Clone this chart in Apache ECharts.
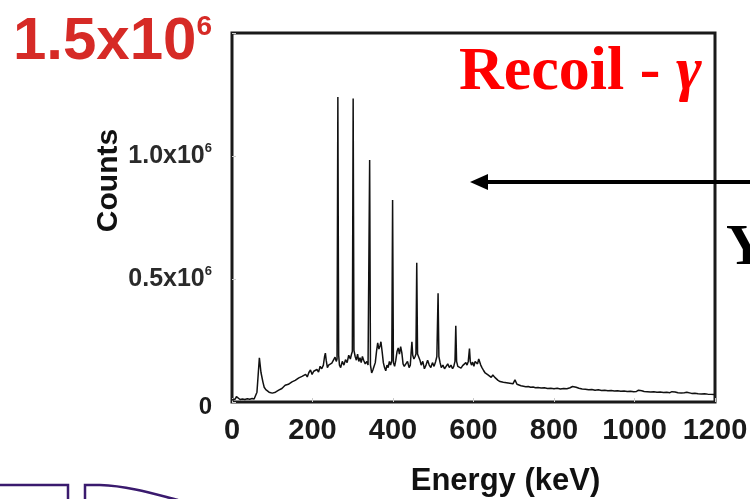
<!DOCTYPE html>
<html>
<head>
<meta charset="utf-8">
<script src="https://cdn.jsdelivr.net/npm/echarts@6/dist/echarts.min.js"></script>
<style>
  html, body { margin: 0; padding: 0; background: #fff; }
  #main { width: 750px; height: 499px; }
</style>
</head>
<body>
<div id="main"></div>
<script>
// gamma spectrum, counts in units of 1000
var energyKeV = [
  0, 4, 8, 11, 13, 15, 20, 26, 32, 38, 44, 50, 55, 59, 62, 65, 68, 70, 72, 74,
  77, 80, 84, 88, 92, 96, 100, 104, 108, 112, 116, 120, 124, 128, 132, 136, 140, 144, 149, 153,
  157, 161, 166, 170, 174, 178, 183, 187, 191, 195, 199, 203, 207, 211, 215, 219, 223, 227, 230, 232,
  234, 237, 240, 244, 248, 252, 256, 259, 261, 263, 265, 267, 270, 274, 278, 282, 286, 290, 294, 297,
  299, 301, 303, 306, 309, 312, 315, 318, 321, 324, 327, 331, 335, 338, 340, 342, 344, 347, 350, 353,
  356, 359, 362, 365, 368, 370, 373, 376, 379, 382, 385, 388, 391, 394, 397, 399, 401, 404, 407, 410,
  413, 416, 419, 422, 425, 428, 432, 436, 440, 443, 445, 447, 449, 452, 455, 457, 459, 461, 464, 467,
  470, 474, 478, 482, 486, 490, 494, 498, 502, 506, 509, 512, 514, 517, 520, 524, 528, 532, 536, 540,
  544, 548, 551, 554, 556, 558, 561, 565, 569, 573, 577, 581, 584, 587, 590, 592, 595, 598, 601, 604,
  607, 610, 613, 616, 618, 621, 625, 629, 632, 636, 640, 644, 648, 650, 653, 657, 661, 666, 670, 674,
  678, 682, 686, 690, 694, 698, 701, 703, 705, 708, 712, 718, 724, 730, 736, 742, 748, 754, 760, 768,
  776, 784, 792, 800, 808, 816, 824, 832, 840, 846, 850, 855, 862, 870, 878, 886, 894, 902, 910, 918,
  926, 934, 942, 950, 958, 966, 974, 982, 990, 998, 1005, 1010, 1014, 1018, 1024, 1032, 1040, 1048, 1056, 1064,
  1072, 1080, 1088, 1093, 1097, 1101, 1108, 1116, 1124, 1130, 1134, 1142, 1150, 1158, 1166, 1174, 1182, 1190, 1198, 1200
];
var countsK = [
  8, 10, 12, 22, 28, 14, 10, 12, 10, 13, 11, 14, 12, 18, 40, 110, 180, 150, 120, 125,
  80, 60, 50, 45, 40, 38, 36, 43, 40, 46, 48, 45, 55, 52, 68, 62, 72, 66, 82, 75,
  88, 80, 98, 90, 104, 96, 112, 102, 120, 130, 112, 125, 118, 132, 122, 145, 135, 150, 185, 199,
  170, 140, 150, 145, 158, 150, 182, 165, 175, 1240, 190, 150, 140, 165, 150, 172, 160, 190, 175, 195,
  205, 1234, 210, 185, 170, 195, 165, 180, 160, 185, 170, 155, 165, 150, 158, 984, 150, 118, 130, 145,
  160, 205, 240, 215, 230, 245, 205, 160, 140, 127, 150, 140, 165, 150, 168, 821, 160, 145, 170, 205,
  220, 195, 225, 200, 155, 145, 140, 165, 140, 150, 200, 245, 190, 175, 185, 195, 566, 195, 190, 170,
  150, 165, 135, 150, 170, 150, 140, 160, 145, 165, 185, 442, 185, 160, 140, 150, 135, 145, 155, 140,
  150, 135, 145, 165, 310, 165, 145, 150, 138, 148, 140, 160, 150, 165, 217, 165, 150, 162, 145, 165,
  172, 155, 175, 171, 150, 140, 128, 118, 122, 110, 103, 100, 110, 114, 100, 92, 88, 83, 86, 80,
  82, 78, 80, 76, 78, 74, 80, 90, 84, 72, 68, 66, 64, 62, 63, 60, 61, 58, 59, 57,
  58, 55, 56, 54, 56, 53, 55, 54, 58, 63, 64, 60, 56, 53, 52, 50, 51, 48, 50, 47,
  48, 46, 47, 45, 46, 44, 45, 43, 44, 42, 43, 48, 53, 46, 43, 42, 41, 42, 40, 41,
  39, 40, 38, 42, 50, 41, 38, 37, 38, 40, 38, 35, 36, 34, 33, 34, 32, 31, 30, 30
];
var xTicks = [0, 200, 400, 600, 800, 1000, 1200];
var yTickLabels = { 0: '0', 500: '0.5x10', 1000: '1.0x10', 1500: '1.5x10' };

var spectrum = energyKeV.map(function (e, i) { return [e, countsK[i]]; });

var myChart = echarts.init(document.getElementById('main'));
var option = {
  backgroundColor: '#fff',
  animation: false,
  title: {
    text: 'Recoil - {g|γ}',
    left: 454,
    top: 37,
    textStyle: {
      fontFamily: 'Liberation Serif',
      fontWeight: 'bold',
      fontSize: 62,
      color: '#ff0000',
      rich: {
        g: { fontFamily: 'Liberation Serif', fontStyle: 'italic', fontWeight: 'bold', fontSize: 62, color: '#ff0000' }
      }
    }
  },
  grid: {
    left: 232,
    right: 35,
    top: 33,
    bottom: 97,
    show: true,
    borderColor: '#1a1a1a',
    borderWidth: 3,
    outerBoundsMode: 'none'
  },
  xAxis: {
    type: 'value',
    min: 0,
    max: 1200,
    interval: 200,
    name: 'Energy (keV)',
    nameLocation: 'middle',
    nameGap: 64,
    nameMoveOverlap: false,
    nameTextStyle: {
      fontFamily: 'Liberation Sans',
      fontWeight: 'bold',
      fontSize: 31,
      color: '#111',
      padding: [0, 0, 0, 64]
    },
    axisLine: { show: false },
    axisTick: { inside: true, length: 4, lineStyle: { color: '#ccc' } },
    splitLine: { show: false },
    axisLabel: {
      margin: 14,
      fontFamily: 'Liberation Sans',
      fontWeight: 'bold',
      fontSize: 29,
      color: '#1a1a1a',
      formatter: function (v) { return xTicks.indexOf(v) >= 0 ? String(v) : ''; }
    }
  },
  yAxis: {
    type: 'value',
    min: 0,
    max: 1500,
    interval: 500,
    name: 'Counts',
    nameLocation: 'middle',
    nameRotate: 90,
    nameGap: 108,
    nameMoveOverlap: false,
    nameTextStyle: {
      fontFamily: 'Liberation Sans',
      fontWeight: 'bold',
      fontSize: 30,
      color: '#111',
      padding: [0, 0, 0, 74]
    },
    axisLine: { show: false },
    axisTick: { inside: true, length: 4, lineStyle: { color: '#ccc' } },
    splitLine: { show: false },
    axisLabel: {
      margin: 20,
      color: '#1a1a1a',
      formatter: function (v) {
        var t = yTickLabels[v];
        if (v === 0) return '{z|' + t + '}';
        if (v === 1500) return '{r|' + t + '}{rs|6}';
        return '{n|' + t + '}{s|6}';
      },
      rich: {
        z: { fontFamily: 'Liberation Sans', fontWeight: 'bold', fontSize: 24, color: '#1a1a1a', padding: [10, 0, 0, 0] },
        n: { fontFamily: 'Liberation Sans', fontWeight: 'bold', fontSize: 25, color: '#2a2a2a', lineHeight: 28 },
        s: { fontFamily: 'Liberation Sans', fontWeight: 'bold', fontSize: 13, color: '#2a2a2a', verticalAlign: 'top', lineHeight: 28 },
        r: { fontFamily: 'Liberation Sans', fontWeight: 'bold', fontSize: 60, color: '#d62a26', lineHeight: 60, padding: [18, 0, 0, 0] },
        rs: { fontFamily: 'Liberation Sans', fontWeight: 'bold', fontSize: 28, color: '#d62a26', verticalAlign: 'top', lineHeight: 60, padding: [10, 0, 0, 0] }
      }
    }
  },
  graphic: [
    // arrow coming in from the right
    { type: 'line', shape: { x1: 750, y1: 182, x2: 484, y2: 182 }, style: { stroke: '#000', lineWidth: 4 } },
    { type: 'polygon', shape: { points: [[470, 182], [488, 174], [488, 190]] }, style: { fill: '#000' } },
    { type: 'text', x: 726, y: 220, style: { text: 'Y', font: 'bold 58px "Liberation Serif"', fill: '#000' } },
    // purple outline at the bottom left
    { type: 'polyline', shape: { points: [[0, 485], [68, 485], [68, 500]] }, style: { stroke: '#3a1a6e', lineWidth: 2.5, fill: null } },
    { type: 'polyline', shape: { points: [[85, 500], [85, 485], [100, 485]] }, style: { stroke: '#3a1a6e', lineWidth: 2.5, fill: null } },
    { type: 'bezierCurve', shape: { x1: 100, y1: 485, cpx1: 130, cpy1: 486, cpx2: 158, cpy2: 495, x2: 178, y2: 500 }, style: { stroke: '#3a1a6e', lineWidth: 2.5, fill: null } }
  ],
  series: [{
    type: 'line',
    data: spectrum,
    showSymbol: false,
    lineStyle: { color: '#111', width: 1.5 },
    z: 3
  }]
};
myChart.setOption(option);
</script>
</body>
</html>
